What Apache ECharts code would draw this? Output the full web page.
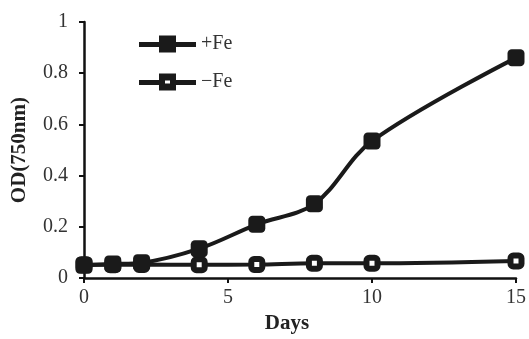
<!DOCTYPE html>
<html><head><meta charset="utf-8">
<script src="https://cdn.jsdelivr.net/npm/echarts@6/dist/echarts.min.js"></script>
<style>html,body{margin:0;padding:0;background:#fff}#c{width:529px;height:339px}</style>
</head><body><div id="c"></div>
<script>
const days = [0, 1, 2, 4, 6, 8, 10, 15];
const plusFe = [0.05, 0.055, 0.06, 0.115, 0.21, 0.29, 0.535, 0.86];
const minusFe = [0.052, 0.052, 0.053, 0.052, 0.053, 0.058, 0.058, 0.067];
const seriesNames = ['+Fe', '\u2212Fe'];
const font = 'Liberation Serif';
const hollowIcon = 'path://M0,6.5L20,6.5L20,0L37,0L37,6.5L57,6.5L57,11.5L37,11.5L37,17L20,17L20,11.5L0,11.5Z M26,7L26,10L31,10L31,7Z';
const filledIcon = 'path://M0,6.5L20,6.5L20,0L37,0L37,6.5L57,6.5L57,11.5L37,11.5L37,17L20,17L20,11.5L0,11.5Z';
const chart = echarts.init(document.getElementById('c'));
chart.setOption({
  animation: false,
  grid: {left: 84, right: 12, top: 22, bottom: 60},
  legend: {
    orient: 'vertical', left: 134, top: 29, itemGap: 18,
    itemWidth: 57, itemHeight: 21,
    lineStyle: {width: 5},
    textStyle: {fontFamily: font, fontSize: 20, color: '#333'},
    data: [
      {name: seriesNames[0], icon: filledIcon, itemStyle: {color: '#1a1a1a', borderWidth: 0}},
      {name: seriesNames[1], icon: hollowIcon, itemStyle: {color: '#1a1a1a', borderWidth: 0}}
    ]
  },
  xAxis: {
    type: 'value', min: 0, max: 15, interval: 5,
    name: 'Days', nameLocation: 'middle', nameGap: 32,
    nameTextStyle: {fontFamily: font, fontSize: 21, fontWeight: 'bold', color: '#222', padding: [0, 26, 0, 0]},
    axisLine: {lineStyle: {color: '#111', width: 2.5}},
    axisTick: {length: 5, lineStyle: {color: '#111', width: 2}},
    axisLabel: {fontFamily: font, fontSize: 20, color: '#333', margin: 10},
    splitLine: {show: false}
  },
  yAxis: {
    type: 'value', min: 0, max: 1, interval: 0.2,
    name: 'OD(750nm)', nameLocation: 'middle', nameGap: 54,
    nameTextStyle: {fontFamily: font, fontSize: 21, fontWeight: 'bold', color: '#222'},
    axisLine: {show: true, lineStyle: {color: '#111', width: 2.5}},
    axisTick: {show: true, length: 5, lineStyle: {color: '#111', width: 2}},
    axisLabel: {fontFamily: font, fontSize: 20, color: '#333', margin: 16},
    splitLine: {show: false}
  },
  series: [
    {
      name: seriesNames[1], type: 'line', smooth: 0.35,
      data: days.map((d, i) => [d, minusFe[i]]),
      symbol: 'roundRect', symbolSize: 11,
      itemStyle: {color: '#fff', borderColor: '#1a1a1a', borderWidth: 6},
      lineStyle: {color: '#1a1a1a', width: 4},
      z: 2
    },
    {
      name: seriesNames[0], type: 'line', smooth: 0.35,
      data: days.map((d, i) => [d, plusFe[i]]),
      symbol: 'roundRect', symbolSize: 17,
      itemStyle: {color: '#1a1a1a', borderColor: '#1a1a1a', borderWidth: 0},
      lineStyle: {color: '#1a1a1a', width: 4},
      z: 3
    }
  ]
});
</script></body></html>
